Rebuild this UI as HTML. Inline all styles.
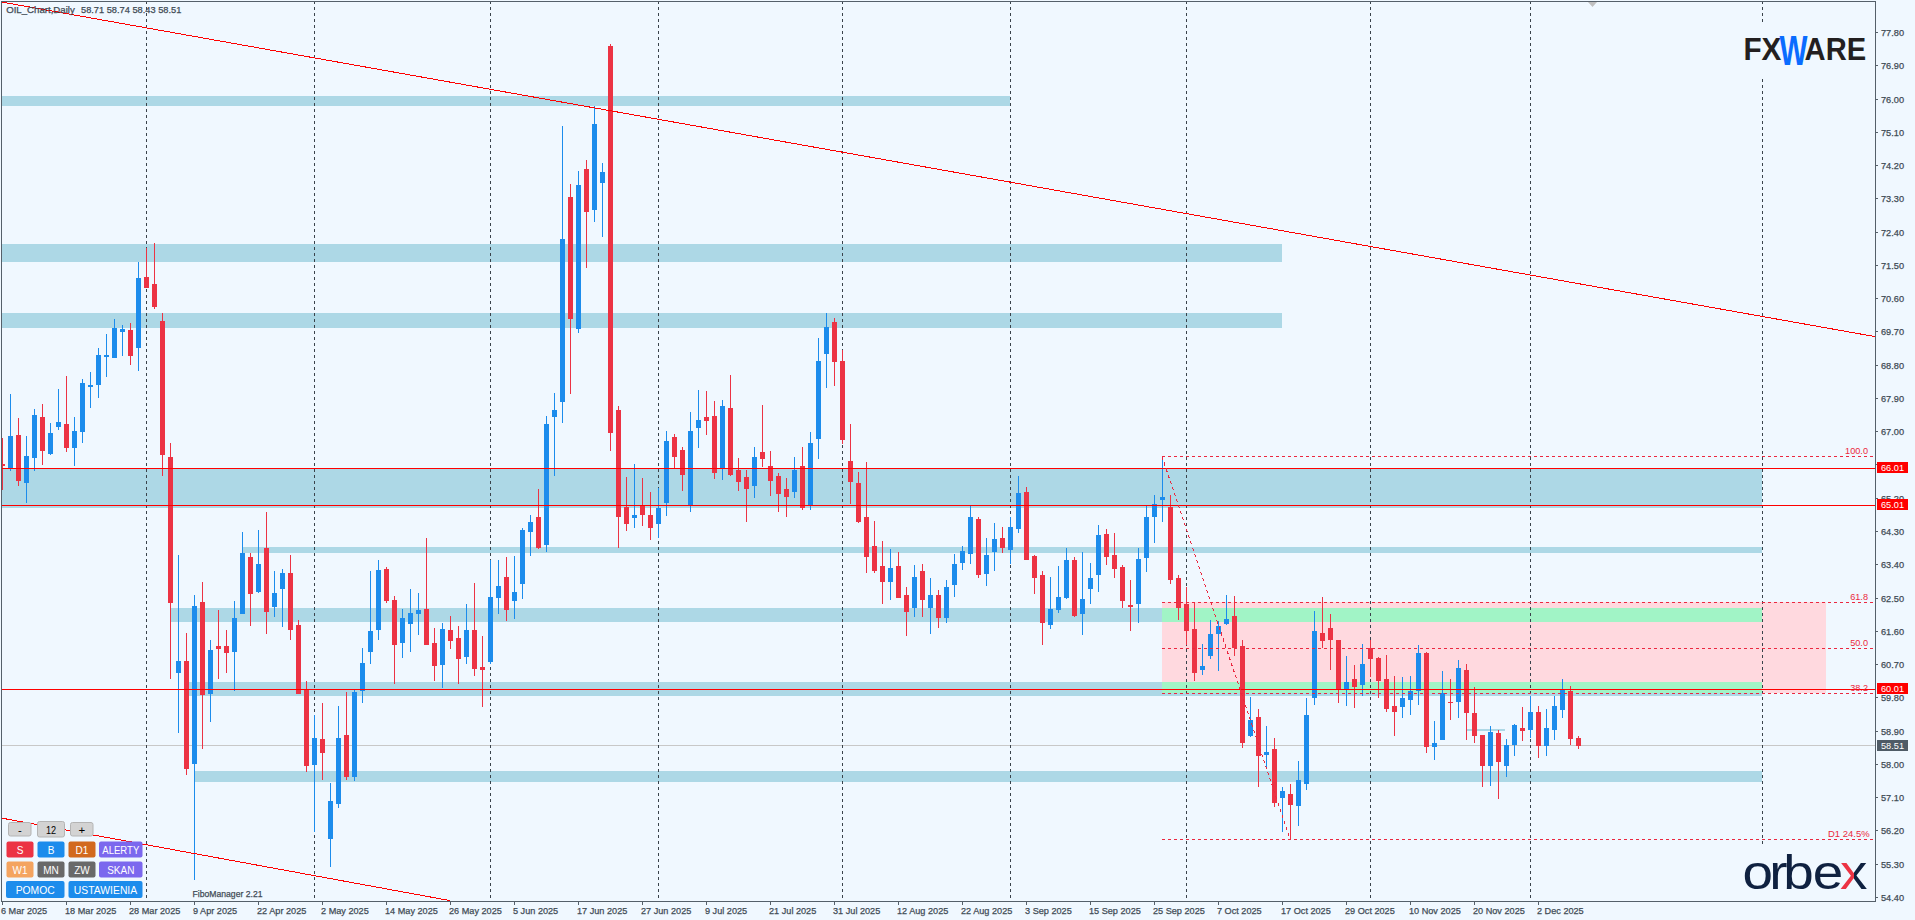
<!DOCTYPE html>
<html><head><meta charset="utf-8"><title>OIL_Chart Daily</title>
<style>html,body{margin:0;padding:0;background:#F0F8FF;}body{width:1915px;height:920px;overflow:hidden}svg{display:block}</style>
</head><body>
<svg width="1915" height="920" viewBox="0 0 1915 920" font-family='"Liberation Sans", Arial, sans-serif'>
<rect width="1915" height="920" fill="#F0F8FF"/>
<g shape-rendering="crispEdges">
<rect x="2" y="96" width="1008" height="10" fill="#ADD8E6"/>
<rect x="2" y="244" width="1280" height="18" fill="#ADD8E6"/>
<rect x="2" y="313" width="1280" height="15" fill="#ADD8E6"/>
<rect x="2" y="468" width="1760" height="40" fill="#ADD8E6"/>
<rect x="243" y="547" width="1519" height="6" fill="#ADD8E6"/>
<rect x="171" y="608" width="1591" height="14" fill="#ADD8E6"/>
<rect x="187" y="682" width="1575" height="14" fill="#ADD8E6"/>
<rect x="195" y="771" width="1567" height="11" fill="#ADD8E6"/>
<rect x="1466" y="729" width="39" height="2" fill="#ADD8E6"/>
<rect x="1162" y="602" width="664" height="91" fill="#FFD9DF"/>
<rect x="1162" y="608" width="600" height="14" fill="#A1F4C6"/>
<rect x="1162" y="682" width="600" height="11" fill="#A1F4C6"/>
<rect x="2" y="745" width="1873" height="1" fill="#C8C8C8"/>
</g>
<g stroke="#3A434B" stroke-width="1" stroke-dasharray="3 3" shape-rendering="crispEdges">
<line x1="146.5" y1="1" x2="146.5" y2="901"/>
<line x1="314.5" y1="1" x2="314.5" y2="901"/>
<line x1="490.5" y1="1" x2="490.5" y2="901"/>
<line x1="658.5" y1="1" x2="658.5" y2="901"/>
<line x1="842.5" y1="1" x2="842.5" y2="901"/>
<line x1="1010.5" y1="1" x2="1010.5" y2="901"/>
<line x1="1186.5" y1="1" x2="1186.5" y2="901"/>
<line x1="1370.5" y1="1" x2="1370.5" y2="901"/>
<line x1="1530.5" y1="1" x2="1530.5" y2="901"/>
<line x1="1762.5" y1="1" x2="1762.5" y2="22"/>
<line x1="1762.5" y1="79" x2="1762.5" y2="844"/>
</g>
<g shape-rendering="crispEdges">
<rect x="2" y="438" width="1" height="52" fill="#EC3344"/>
<rect x="2" y="464" width="3" height="2" fill="#EC3344"/>
<rect x="10" y="394" width="1" height="77" fill="#1C8CEC"/>
<rect x="8" y="436" width="5" height="32" fill="#1C8CEC"/>
<rect x="18" y="418" width="1" height="68" fill="#EC3344"/>
<rect x="16" y="435" width="5" height="46" fill="#EC3344"/>
<rect x="26" y="436" width="1" height="67" fill="#1C8CEC"/>
<rect x="24" y="456" width="5" height="27" fill="#1C8CEC"/>
<rect x="34" y="409" width="1" height="62" fill="#1C8CEC"/>
<rect x="32" y="415" width="5" height="43" fill="#1C8CEC"/>
<rect x="42" y="404" width="1" height="61" fill="#EC3344"/>
<rect x="40" y="417" width="5" height="34" fill="#EC3344"/>
<rect x="50" y="423" width="1" height="32" fill="#1C8CEC"/>
<rect x="48" y="433" width="5" height="21" fill="#1C8CEC"/>
<rect x="58" y="389" width="1" height="41" fill="#1C8CEC"/>
<rect x="56" y="422" width="5" height="5" fill="#1C8CEC"/>
<rect x="66" y="376" width="1" height="76" fill="#EC3344"/>
<rect x="64" y="424" width="5" height="24" fill="#EC3344"/>
<rect x="74" y="417" width="1" height="49" fill="#1C8CEC"/>
<rect x="72" y="431" width="5" height="17" fill="#1C8CEC"/>
<rect x="82" y="379" width="1" height="64" fill="#1C8CEC"/>
<rect x="80" y="383" width="5" height="49" fill="#1C8CEC"/>
<rect x="90" y="372" width="1" height="36" fill="#1C8CEC"/>
<rect x="88" y="385" width="5" height="2" fill="#1C8CEC"/>
<rect x="98" y="348" width="1" height="50" fill="#1C8CEC"/>
<rect x="96" y="355" width="5" height="30" fill="#1C8CEC"/>
<rect x="106" y="334" width="1" height="43" fill="#1C8CEC"/>
<rect x="104" y="355" width="5" height="2" fill="#1C8CEC"/>
<rect x="114" y="319" width="1" height="39" fill="#1C8CEC"/>
<rect x="112" y="328" width="5" height="30" fill="#1C8CEC"/>
<rect x="122" y="325" width="1" height="31" fill="#1C8CEC"/>
<rect x="120" y="329" width="5" height="3" fill="#1C8CEC"/>
<rect x="130" y="323" width="1" height="42" fill="#EC3344"/>
<rect x="128" y="330" width="5" height="26" fill="#EC3344"/>
<rect x="138" y="262" width="1" height="109" fill="#1C8CEC"/>
<rect x="136" y="278" width="5" height="70" fill="#1C8CEC"/>
<rect x="146" y="248" width="1" height="40" fill="#EC3344"/>
<rect x="144" y="277" width="5" height="11" fill="#EC3344"/>
<rect x="154" y="243" width="1" height="66" fill="#EC3344"/>
<rect x="152" y="284" width="5" height="23" fill="#EC3344"/>
<rect x="162" y="313" width="1" height="163" fill="#EC3344"/>
<rect x="160" y="321" width="5" height="134" fill="#EC3344"/>
<rect x="170" y="443" width="1" height="236" fill="#EC3344"/>
<rect x="168" y="457" width="5" height="146" fill="#EC3344"/>
<rect x="178" y="555" width="1" height="178" fill="#1C8CEC"/>
<rect x="176" y="661" width="5" height="12" fill="#1C8CEC"/>
<rect x="186" y="633" width="1" height="142" fill="#EC3344"/>
<rect x="184" y="661" width="5" height="108" fill="#EC3344"/>
<rect x="194" y="595" width="1" height="285" fill="#1C8CEC"/>
<rect x="192" y="606" width="5" height="158" fill="#1C8CEC"/>
<rect x="202" y="582" width="1" height="167" fill="#EC3344"/>
<rect x="200" y="602" width="5" height="93" fill="#EC3344"/>
<rect x="210" y="640" width="1" height="82" fill="#1C8CEC"/>
<rect x="208" y="650" width="5" height="44" fill="#1C8CEC"/>
<rect x="218" y="610" width="1" height="69" fill="#EC3344"/>
<rect x="216" y="646" width="5" height="3" fill="#EC3344"/>
<rect x="226" y="630" width="1" height="43" fill="#EC3344"/>
<rect x="224" y="646" width="5" height="7" fill="#EC3344"/>
<rect x="234" y="601" width="1" height="90" fill="#1C8CEC"/>
<rect x="232" y="618" width="5" height="34" fill="#1C8CEC"/>
<rect x="242" y="532" width="1" height="82" fill="#1C8CEC"/>
<rect x="240" y="553" width="5" height="61" fill="#1C8CEC"/>
<rect x="250" y="553" width="1" height="73" fill="#EC3344"/>
<rect x="248" y="557" width="5" height="37" fill="#EC3344"/>
<rect x="258" y="530" width="1" height="63" fill="#1C8CEC"/>
<rect x="256" y="564" width="5" height="28" fill="#1C8CEC"/>
<rect x="266" y="512" width="1" height="122" fill="#EC3344"/>
<rect x="264" y="548" width="5" height="64" fill="#EC3344"/>
<rect x="274" y="571" width="1" height="46" fill="#1C8CEC"/>
<rect x="272" y="593" width="5" height="14" fill="#1C8CEC"/>
<rect x="282" y="569" width="1" height="58" fill="#1C8CEC"/>
<rect x="280" y="573" width="5" height="16" fill="#1C8CEC"/>
<rect x="290" y="555" width="1" height="85" fill="#EC3344"/>
<rect x="288" y="573" width="5" height="57" fill="#EC3344"/>
<rect x="298" y="620" width="1" height="74" fill="#EC3344"/>
<rect x="296" y="625" width="5" height="69" fill="#EC3344"/>
<rect x="306" y="681" width="1" height="91" fill="#EC3344"/>
<rect x="304" y="689" width="5" height="77" fill="#EC3344"/>
<rect x="314" y="715" width="1" height="117" fill="#1C8CEC"/>
<rect x="312" y="738" width="5" height="27" fill="#1C8CEC"/>
<rect x="322" y="703" width="1" height="77" fill="#EC3344"/>
<rect x="320" y="739" width="5" height="14" fill="#EC3344"/>
<rect x="330" y="783" width="1" height="84" fill="#1C8CEC"/>
<rect x="328" y="801" width="5" height="38" fill="#1C8CEC"/>
<rect x="338" y="706" width="1" height="102" fill="#1C8CEC"/>
<rect x="336" y="738" width="5" height="66" fill="#1C8CEC"/>
<rect x="346" y="692" width="1" height="88" fill="#EC3344"/>
<rect x="344" y="735" width="5" height="42" fill="#EC3344"/>
<rect x="354" y="689" width="1" height="92" fill="#1C8CEC"/>
<rect x="352" y="692" width="5" height="85" fill="#1C8CEC"/>
<rect x="362" y="648" width="1" height="55" fill="#1C8CEC"/>
<rect x="360" y="663" width="5" height="28" fill="#1C8CEC"/>
<rect x="370" y="571" width="1" height="93" fill="#1C8CEC"/>
<rect x="368" y="631" width="5" height="21" fill="#1C8CEC"/>
<rect x="378" y="560" width="1" height="80" fill="#1C8CEC"/>
<rect x="376" y="570" width="5" height="60" fill="#1C8CEC"/>
<rect x="386" y="567" width="1" height="36" fill="#EC3344"/>
<rect x="384" y="569" width="5" height="32" fill="#EC3344"/>
<rect x="394" y="596" width="1" height="88" fill="#EC3344"/>
<rect x="392" y="600" width="5" height="45" fill="#EC3344"/>
<rect x="402" y="609" width="1" height="49" fill="#1C8CEC"/>
<rect x="400" y="618" width="5" height="25" fill="#1C8CEC"/>
<rect x="410" y="589" width="1" height="63" fill="#1C8CEC"/>
<rect x="408" y="613" width="5" height="11" fill="#1C8CEC"/>
<rect x="418" y="593" width="1" height="42" fill="#1C8CEC"/>
<rect x="416" y="610" width="5" height="4" fill="#1C8CEC"/>
<rect x="426" y="538" width="1" height="107" fill="#EC3344"/>
<rect x="424" y="609" width="5" height="36" fill="#EC3344"/>
<rect x="434" y="628" width="1" height="53" fill="#EC3344"/>
<rect x="432" y="643" width="5" height="23" fill="#EC3344"/>
<rect x="442" y="623" width="1" height="65" fill="#1C8CEC"/>
<rect x="440" y="629" width="5" height="36" fill="#1C8CEC"/>
<rect x="450" y="616" width="1" height="33" fill="#EC3344"/>
<rect x="448" y="630" width="5" height="11" fill="#EC3344"/>
<rect x="458" y="626" width="1" height="58" fill="#EC3344"/>
<rect x="456" y="638" width="5" height="21" fill="#EC3344"/>
<rect x="466" y="604" width="1" height="60" fill="#1C8CEC"/>
<rect x="464" y="630" width="5" height="27" fill="#1C8CEC"/>
<rect x="474" y="583" width="1" height="93" fill="#EC3344"/>
<rect x="472" y="630" width="5" height="39" fill="#EC3344"/>
<rect x="482" y="636" width="1" height="71" fill="#EC3344"/>
<rect x="480" y="667" width="5" height="3" fill="#EC3344"/>
<rect x="490" y="560" width="1" height="104" fill="#1C8CEC"/>
<rect x="488" y="597" width="5" height="65" fill="#1C8CEC"/>
<rect x="498" y="560" width="1" height="54" fill="#1C8CEC"/>
<rect x="496" y="586" width="5" height="12" fill="#1C8CEC"/>
<rect x="506" y="557" width="1" height="64" fill="#EC3344"/>
<rect x="504" y="577" width="5" height="33" fill="#EC3344"/>
<rect x="514" y="556" width="1" height="63" fill="#1C8CEC"/>
<rect x="512" y="592" width="5" height="9" fill="#1C8CEC"/>
<rect x="522" y="528" width="1" height="71" fill="#1C8CEC"/>
<rect x="520" y="530" width="5" height="54" fill="#1C8CEC"/>
<rect x="530" y="515" width="1" height="41" fill="#1C8CEC"/>
<rect x="528" y="522" width="5" height="10" fill="#1C8CEC"/>
<rect x="538" y="489" width="1" height="60" fill="#EC3344"/>
<rect x="536" y="517" width="5" height="31" fill="#EC3344"/>
<rect x="546" y="416" width="1" height="136" fill="#1C8CEC"/>
<rect x="544" y="424" width="5" height="121" fill="#1C8CEC"/>
<rect x="554" y="393" width="1" height="83" fill="#1C8CEC"/>
<rect x="552" y="410" width="5" height="7" fill="#1C8CEC"/>
<rect x="562" y="126" width="1" height="297" fill="#1C8CEC"/>
<rect x="560" y="239" width="5" height="163" fill="#1C8CEC"/>
<rect x="570" y="184" width="1" height="210" fill="#EC3344"/>
<rect x="568" y="197" width="5" height="122" fill="#EC3344"/>
<rect x="578" y="171" width="1" height="162" fill="#1C8CEC"/>
<rect x="576" y="185" width="5" height="144" fill="#1C8CEC"/>
<rect x="586" y="160" width="1" height="108" fill="#EC3344"/>
<rect x="584" y="169" width="5" height="43" fill="#EC3344"/>
<rect x="594" y="106" width="1" height="116" fill="#1C8CEC"/>
<rect x="592" y="124" width="5" height="86" fill="#1C8CEC"/>
<rect x="602" y="163" width="1" height="74" fill="#1C8CEC"/>
<rect x="600" y="172" width="5" height="11" fill="#1C8CEC"/>
<rect x="610" y="44" width="1" height="407" fill="#EC3344"/>
<rect x="608" y="46" width="5" height="387" fill="#EC3344"/>
<rect x="618" y="406" width="1" height="142" fill="#EC3344"/>
<rect x="616" y="410" width="5" height="107" fill="#EC3344"/>
<rect x="626" y="477" width="1" height="54" fill="#EC3344"/>
<rect x="624" y="507" width="5" height="17" fill="#EC3344"/>
<rect x="634" y="464" width="1" height="64" fill="#1C8CEC"/>
<rect x="632" y="515" width="5" height="3" fill="#1C8CEC"/>
<rect x="642" y="478" width="1" height="48" fill="#EC3344"/>
<rect x="640" y="505" width="5" height="10" fill="#EC3344"/>
<rect x="650" y="492" width="1" height="48" fill="#EC3344"/>
<rect x="648" y="515" width="5" height="13" fill="#EC3344"/>
<rect x="658" y="488" width="1" height="50" fill="#1C8CEC"/>
<rect x="656" y="508" width="5" height="16" fill="#1C8CEC"/>
<rect x="666" y="431" width="1" height="85" fill="#1C8CEC"/>
<rect x="664" y="441" width="5" height="62" fill="#1C8CEC"/>
<rect x="674" y="434" width="1" height="34" fill="#EC3344"/>
<rect x="672" y="437" width="5" height="20" fill="#EC3344"/>
<rect x="682" y="447" width="1" height="44" fill="#EC3344"/>
<rect x="680" y="450" width="5" height="25" fill="#EC3344"/>
<rect x="690" y="412" width="1" height="100" fill="#1C8CEC"/>
<rect x="688" y="431" width="5" height="74" fill="#1C8CEC"/>
<rect x="698" y="390" width="1" height="58" fill="#1C8CEC"/>
<rect x="696" y="420" width="5" height="8" fill="#1C8CEC"/>
<rect x="706" y="391" width="1" height="44" fill="#EC3344"/>
<rect x="704" y="417" width="5" height="4" fill="#EC3344"/>
<rect x="714" y="401" width="1" height="78" fill="#EC3344"/>
<rect x="712" y="416" width="5" height="57" fill="#EC3344"/>
<rect x="722" y="400" width="1" height="80" fill="#1C8CEC"/>
<rect x="720" y="406" width="5" height="62" fill="#1C8CEC"/>
<rect x="730" y="375" width="1" height="101" fill="#EC3344"/>
<rect x="728" y="408" width="5" height="67" fill="#EC3344"/>
<rect x="738" y="458" width="1" height="33" fill="#EC3344"/>
<rect x="736" y="470" width="5" height="12" fill="#EC3344"/>
<rect x="746" y="470" width="1" height="52" fill="#EC3344"/>
<rect x="744" y="477" width="5" height="12" fill="#EC3344"/>
<rect x="754" y="447" width="1" height="51" fill="#1C8CEC"/>
<rect x="752" y="457" width="5" height="29" fill="#1C8CEC"/>
<rect x="762" y="405" width="1" height="62" fill="#EC3344"/>
<rect x="760" y="452" width="5" height="7" fill="#EC3344"/>
<rect x="770" y="451" width="1" height="45" fill="#EC3344"/>
<rect x="768" y="466" width="5" height="15" fill="#EC3344"/>
<rect x="778" y="473" width="1" height="39" fill="#EC3344"/>
<rect x="776" y="476" width="5" height="18" fill="#EC3344"/>
<rect x="786" y="478" width="1" height="39" fill="#EC3344"/>
<rect x="784" y="489" width="5" height="8" fill="#EC3344"/>
<rect x="794" y="457" width="1" height="41" fill="#1C8CEC"/>
<rect x="792" y="470" width="5" height="22" fill="#1C8CEC"/>
<rect x="802" y="447" width="1" height="63" fill="#EC3344"/>
<rect x="800" y="466" width="5" height="42" fill="#EC3344"/>
<rect x="810" y="432" width="1" height="78" fill="#1C8CEC"/>
<rect x="808" y="443" width="5" height="62" fill="#1C8CEC"/>
<rect x="818" y="338" width="1" height="121" fill="#1C8CEC"/>
<rect x="816" y="361" width="5" height="78" fill="#1C8CEC"/>
<rect x="826" y="313" width="1" height="75" fill="#1C8CEC"/>
<rect x="824" y="327" width="5" height="27" fill="#1C8CEC"/>
<rect x="834" y="318" width="1" height="68" fill="#EC3344"/>
<rect x="832" y="322" width="5" height="40" fill="#EC3344"/>
<rect x="842" y="350" width="1" height="94" fill="#EC3344"/>
<rect x="840" y="361" width="5" height="79" fill="#EC3344"/>
<rect x="850" y="424" width="1" height="80" fill="#EC3344"/>
<rect x="848" y="461" width="5" height="21" fill="#EC3344"/>
<rect x="858" y="472" width="1" height="51" fill="#EC3344"/>
<rect x="856" y="483" width="5" height="39" fill="#EC3344"/>
<rect x="866" y="462" width="1" height="111" fill="#EC3344"/>
<rect x="864" y="517" width="5" height="40" fill="#EC3344"/>
<rect x="874" y="521" width="1" height="52" fill="#EC3344"/>
<rect x="872" y="546" width="5" height="25" fill="#EC3344"/>
<rect x="882" y="541" width="1" height="63" fill="#EC3344"/>
<rect x="880" y="566" width="5" height="16" fill="#EC3344"/>
<rect x="890" y="549" width="1" height="51" fill="#1C8CEC"/>
<rect x="888" y="568" width="5" height="14" fill="#1C8CEC"/>
<rect x="898" y="552" width="1" height="46" fill="#EC3344"/>
<rect x="896" y="566" width="5" height="32" fill="#EC3344"/>
<rect x="906" y="587" width="1" height="49" fill="#EC3344"/>
<rect x="904" y="595" width="5" height="17" fill="#EC3344"/>
<rect x="914" y="565" width="1" height="52" fill="#1C8CEC"/>
<rect x="912" y="577" width="5" height="31" fill="#1C8CEC"/>
<rect x="922" y="564" width="1" height="53" fill="#EC3344"/>
<rect x="920" y="571" width="5" height="29" fill="#EC3344"/>
<rect x="930" y="578" width="1" height="56" fill="#1C8CEC"/>
<rect x="928" y="595" width="5" height="13" fill="#1C8CEC"/>
<rect x="938" y="590" width="1" height="38" fill="#EC3344"/>
<rect x="936" y="595" width="5" height="23" fill="#EC3344"/>
<rect x="946" y="580" width="1" height="43" fill="#1C8CEC"/>
<rect x="944" y="587" width="5" height="31" fill="#1C8CEC"/>
<rect x="954" y="554" width="1" height="43" fill="#1C8CEC"/>
<rect x="952" y="564" width="5" height="21" fill="#1C8CEC"/>
<rect x="962" y="546" width="1" height="24" fill="#1C8CEC"/>
<rect x="960" y="551" width="5" height="12" fill="#1C8CEC"/>
<rect x="970" y="506" width="1" height="58" fill="#1C8CEC"/>
<rect x="968" y="517" width="5" height="37" fill="#1C8CEC"/>
<rect x="978" y="517" width="1" height="61" fill="#EC3344"/>
<rect x="976" y="519" width="5" height="56" fill="#EC3344"/>
<rect x="986" y="538" width="1" height="48" fill="#1C8CEC"/>
<rect x="984" y="555" width="5" height="19" fill="#1C8CEC"/>
<rect x="994" y="523" width="1" height="48" fill="#1C8CEC"/>
<rect x="992" y="539" width="5" height="13" fill="#1C8CEC"/>
<rect x="1002" y="527" width="1" height="26" fill="#EC3344"/>
<rect x="1000" y="538" width="5" height="10" fill="#EC3344"/>
<rect x="1010" y="517" width="1" height="47" fill="#1C8CEC"/>
<rect x="1008" y="527" width="5" height="23" fill="#1C8CEC"/>
<rect x="1018" y="476" width="1" height="57" fill="#1C8CEC"/>
<rect x="1016" y="493" width="5" height="36" fill="#1C8CEC"/>
<rect x="1026" y="487" width="1" height="73" fill="#EC3344"/>
<rect x="1024" y="492" width="5" height="68" fill="#EC3344"/>
<rect x="1034" y="555" width="1" height="39" fill="#EC3344"/>
<rect x="1032" y="556" width="5" height="22" fill="#EC3344"/>
<rect x="1042" y="571" width="1" height="74" fill="#EC3344"/>
<rect x="1040" y="575" width="5" height="48" fill="#EC3344"/>
<rect x="1050" y="577" width="1" height="52" fill="#1C8CEC"/>
<rect x="1048" y="609" width="5" height="16" fill="#1C8CEC"/>
<rect x="1058" y="566" width="1" height="47" fill="#1C8CEC"/>
<rect x="1056" y="597" width="5" height="13" fill="#1C8CEC"/>
<rect x="1066" y="548" width="1" height="51" fill="#1C8CEC"/>
<rect x="1064" y="560" width="5" height="38" fill="#1C8CEC"/>
<rect x="1074" y="557" width="1" height="60" fill="#EC3344"/>
<rect x="1072" y="560" width="5" height="56" fill="#EC3344"/>
<rect x="1082" y="552" width="1" height="83" fill="#1C8CEC"/>
<rect x="1080" y="599" width="5" height="15" fill="#1C8CEC"/>
<rect x="1090" y="563" width="1" height="41" fill="#1C8CEC"/>
<rect x="1088" y="578" width="5" height="11" fill="#1C8CEC"/>
<rect x="1098" y="525" width="1" height="67" fill="#1C8CEC"/>
<rect x="1096" y="535" width="5" height="40" fill="#1C8CEC"/>
<rect x="1106" y="529" width="1" height="36" fill="#EC3344"/>
<rect x="1104" y="534" width="5" height="23" fill="#EC3344"/>
<rect x="1114" y="533" width="1" height="45" fill="#EC3344"/>
<rect x="1112" y="555" width="5" height="14" fill="#EC3344"/>
<rect x="1122" y="565" width="1" height="43" fill="#EC3344"/>
<rect x="1120" y="567" width="5" height="34" fill="#EC3344"/>
<rect x="1130" y="580" width="1" height="51" fill="#EC3344"/>
<rect x="1128" y="605" width="5" height="2" fill="#EC3344"/>
<rect x="1138" y="548" width="1" height="75" fill="#1C8CEC"/>
<rect x="1136" y="559" width="5" height="45" fill="#1C8CEC"/>
<rect x="1146" y="506" width="1" height="66" fill="#1C8CEC"/>
<rect x="1144" y="517" width="5" height="41" fill="#1C8CEC"/>
<rect x="1154" y="495" width="1" height="48" fill="#1C8CEC"/>
<rect x="1152" y="504" width="5" height="13" fill="#1C8CEC"/>
<rect x="1162" y="457" width="1" height="65" fill="#1C8CEC"/>
<rect x="1160" y="497" width="5" height="3" fill="#1C8CEC"/>
<rect x="1170" y="495" width="1" height="89" fill="#EC3344"/>
<rect x="1168" y="507" width="5" height="73" fill="#EC3344"/>
<rect x="1178" y="575" width="1" height="45" fill="#EC3344"/>
<rect x="1176" y="578" width="5" height="30" fill="#EC3344"/>
<rect x="1186" y="587" width="1" height="58" fill="#EC3344"/>
<rect x="1184" y="604" width="5" height="27" fill="#EC3344"/>
<rect x="1194" y="602" width="1" height="79" fill="#EC3344"/>
<rect x="1192" y="629" width="5" height="44" fill="#EC3344"/>
<rect x="1202" y="644" width="1" height="31" fill="#1C8CEC"/>
<rect x="1200" y="666" width="5" height="4" fill="#1C8CEC"/>
<rect x="1210" y="620" width="1" height="39" fill="#1C8CEC"/>
<rect x="1208" y="634" width="5" height="22" fill="#1C8CEC"/>
<rect x="1218" y="621" width="1" height="50" fill="#1C8CEC"/>
<rect x="1216" y="626" width="5" height="8" fill="#1C8CEC"/>
<rect x="1226" y="595" width="1" height="30" fill="#1C8CEC"/>
<rect x="1224" y="619" width="5" height="5" fill="#1C8CEC"/>
<rect x="1234" y="596" width="1" height="60" fill="#EC3344"/>
<rect x="1232" y="616" width="5" height="32" fill="#EC3344"/>
<rect x="1242" y="640" width="1" height="108" fill="#EC3344"/>
<rect x="1240" y="646" width="5" height="97" fill="#EC3344"/>
<rect x="1250" y="697" width="1" height="40" fill="#1C8CEC"/>
<rect x="1248" y="720" width="5" height="16" fill="#1C8CEC"/>
<rect x="1258" y="709" width="1" height="78" fill="#EC3344"/>
<rect x="1256" y="717" width="5" height="39" fill="#EC3344"/>
<rect x="1266" y="726" width="1" height="43" fill="#1C8CEC"/>
<rect x="1264" y="752" width="5" height="3" fill="#1C8CEC"/>
<rect x="1274" y="738" width="1" height="69" fill="#EC3344"/>
<rect x="1272" y="749" width="5" height="54" fill="#EC3344"/>
<rect x="1282" y="787" width="1" height="45" fill="#1C8CEC"/>
<rect x="1280" y="791" width="5" height="7" fill="#1C8CEC"/>
<rect x="1290" y="784" width="1" height="55" fill="#EC3344"/>
<rect x="1288" y="794" width="5" height="11" fill="#EC3344"/>
<rect x="1298" y="761" width="1" height="65" fill="#1C8CEC"/>
<rect x="1296" y="780" width="5" height="26" fill="#1C8CEC"/>
<rect x="1306" y="698" width="1" height="92" fill="#1C8CEC"/>
<rect x="1304" y="715" width="5" height="69" fill="#1C8CEC"/>
<rect x="1314" y="611" width="1" height="94" fill="#1C8CEC"/>
<rect x="1312" y="631" width="5" height="67" fill="#1C8CEC"/>
<rect x="1322" y="597" width="1" height="51" fill="#EC3344"/>
<rect x="1320" y="633" width="5" height="8" fill="#EC3344"/>
<rect x="1330" y="614" width="1" height="56" fill="#EC3344"/>
<rect x="1328" y="628" width="5" height="12" fill="#EC3344"/>
<rect x="1338" y="640" width="1" height="63" fill="#EC3344"/>
<rect x="1336" y="640" width="5" height="49" fill="#EC3344"/>
<rect x="1346" y="656" width="1" height="50" fill="#1C8CEC"/>
<rect x="1344" y="682" width="5" height="7" fill="#1C8CEC"/>
<rect x="1354" y="665" width="1" height="43" fill="#EC3344"/>
<rect x="1352" y="679" width="5" height="8" fill="#EC3344"/>
<rect x="1362" y="644" width="1" height="52" fill="#1C8CEC"/>
<rect x="1360" y="664" width="5" height="21" fill="#1C8CEC"/>
<rect x="1370" y="640" width="1" height="37" fill="#EC3344"/>
<rect x="1368" y="648" width="5" height="11" fill="#EC3344"/>
<rect x="1378" y="657" width="1" height="41" fill="#EC3344"/>
<rect x="1376" y="658" width="5" height="23" fill="#EC3344"/>
<rect x="1386" y="655" width="1" height="57" fill="#EC3344"/>
<rect x="1384" y="679" width="5" height="30" fill="#EC3344"/>
<rect x="1394" y="676" width="1" height="60" fill="#EC3344"/>
<rect x="1392" y="706" width="5" height="6" fill="#EC3344"/>
<rect x="1402" y="677" width="1" height="41" fill="#1C8CEC"/>
<rect x="1400" y="698" width="5" height="9" fill="#1C8CEC"/>
<rect x="1410" y="676" width="1" height="39" fill="#1C8CEC"/>
<rect x="1408" y="691" width="5" height="9" fill="#1C8CEC"/>
<rect x="1418" y="645" width="1" height="60" fill="#1C8CEC"/>
<rect x="1416" y="653" width="5" height="38" fill="#1C8CEC"/>
<rect x="1426" y="652" width="1" height="101" fill="#EC3344"/>
<rect x="1424" y="653" width="5" height="94" fill="#EC3344"/>
<rect x="1434" y="721" width="1" height="39" fill="#1C8CEC"/>
<rect x="1432" y="743" width="5" height="4" fill="#1C8CEC"/>
<rect x="1442" y="671" width="1" height="69" fill="#1C8CEC"/>
<rect x="1440" y="693" width="5" height="47" fill="#1C8CEC"/>
<rect x="1450" y="679" width="1" height="41" fill="#EC3344"/>
<rect x="1448" y="702" width="5" height="1" fill="#EC3344"/>
<rect x="1458" y="660" width="1" height="58" fill="#1C8CEC"/>
<rect x="1456" y="668" width="5" height="34" fill="#1C8CEC"/>
<rect x="1466" y="664" width="1" height="76" fill="#EC3344"/>
<rect x="1464" y="670" width="5" height="43" fill="#EC3344"/>
<rect x="1474" y="687" width="1" height="56" fill="#EC3344"/>
<rect x="1472" y="713" width="5" height="23" fill="#EC3344"/>
<rect x="1482" y="735" width="1" height="52" fill="#EC3344"/>
<rect x="1480" y="735" width="5" height="31" fill="#EC3344"/>
<rect x="1490" y="726" width="1" height="60" fill="#1C8CEC"/>
<rect x="1488" y="732" width="5" height="34" fill="#1C8CEC"/>
<rect x="1498" y="730" width="1" height="69" fill="#EC3344"/>
<rect x="1496" y="733" width="5" height="29" fill="#EC3344"/>
<rect x="1506" y="739" width="1" height="38" fill="#1C8CEC"/>
<rect x="1504" y="745" width="5" height="21" fill="#1C8CEC"/>
<rect x="1514" y="724" width="1" height="32" fill="#1C8CEC"/>
<rect x="1512" y="725" width="5" height="20" fill="#1C8CEC"/>
<rect x="1522" y="707" width="1" height="34" fill="#EC3344"/>
<rect x="1520" y="728" width="5" height="3" fill="#EC3344"/>
<rect x="1530" y="696" width="1" height="42" fill="#1C8CEC"/>
<rect x="1528" y="712" width="5" height="18" fill="#1C8CEC"/>
<rect x="1538" y="706" width="1" height="52" fill="#EC3344"/>
<rect x="1536" y="712" width="5" height="34" fill="#EC3344"/>
<rect x="1546" y="709" width="1" height="47" fill="#1C8CEC"/>
<rect x="1544" y="728" width="5" height="18" fill="#1C8CEC"/>
<rect x="1554" y="696" width="1" height="44" fill="#1C8CEC"/>
<rect x="1552" y="706" width="5" height="24" fill="#1C8CEC"/>
<rect x="1562" y="679" width="1" height="39" fill="#1C8CEC"/>
<rect x="1560" y="690" width="5" height="20" fill="#1C8CEC"/>
<rect x="1570" y="686" width="1" height="59" fill="#EC3344"/>
<rect x="1568" y="691" width="5" height="48" fill="#EC3344"/>
<rect x="1578" y="736" width="1" height="13" fill="#EC3344"/>
<rect x="1576" y="738" width="5" height="8" fill="#EC3344"/>
</g>
<g shape-rendering="crispEdges">
<rect x="2" y="468" width="1873" height="1" fill="#FF0000"/>
<rect x="2" y="505" width="1873" height="1" fill="#FF0000"/>
<rect x="2" y="689" width="1873" height="1" fill="#FF0000"/>
</g>
<g stroke="#FF0000" stroke-width="1" fill="none" shape-rendering="crispEdges">
<line x1="1" y1="1.9" x2="1875" y2="336.6"/>
<line x1="1" y1="818" x2="450" y2="900.6"/>
</g>
<g stroke="#EB2840" stroke-width="1" stroke-dasharray="3 3" shape-rendering="crispEdges">
<line x1="1162" y1="456.5" x2="1873" y2="456.5"/>
<line x1="1162" y1="602.5" x2="1873" y2="602.5"/>
<line x1="1162" y1="648.5" x2="1873" y2="648.5"/>
<line x1="1162" y1="693.5" x2="1873" y2="693.5"/>
<line x1="1162" y1="839.5" x2="1873" y2="839.5"/>
</g>
<line x1="1162" y1="456.5" x2="1290" y2="838.5" stroke="#EB2840" stroke-width="1" stroke-dasharray="3.2 3.2" shape-rendering="crispEdges"/>
<g shape-rendering="crispEdges">
<rect x="1" y="1" width="1875" height="1" fill="#55606A"/>
<rect x="1" y="1" width="1" height="901" fill="#55606A"/>
<rect x="1875" y="1" width="1" height="901" fill="#55606A"/>
<rect x="1" y="901" width="1875" height="1" fill="#55606A"/>
<polygon points="1588,2 1597,2 1592.5,7" fill="#C0C0C0" shape-rendering="auto"/>
<rect x="1876" y="32" width="2" height="1" fill="#55606A"/>
<rect x="1876" y="65" width="2" height="1" fill="#55606A"/>
<rect x="1876" y="99" width="2" height="1" fill="#55606A"/>
<rect x="1876" y="132" width="2" height="1" fill="#55606A"/>
<rect x="1876" y="165" width="2" height="1" fill="#55606A"/>
<rect x="1876" y="198" width="2" height="1" fill="#55606A"/>
<rect x="1876" y="232" width="2" height="1" fill="#55606A"/>
<rect x="1876" y="265" width="2" height="1" fill="#55606A"/>
<rect x="1876" y="298" width="2" height="1" fill="#55606A"/>
<rect x="1876" y="331" width="2" height="1" fill="#55606A"/>
<rect x="1876" y="365" width="2" height="1" fill="#55606A"/>
<rect x="1876" y="398" width="2" height="1" fill="#55606A"/>
<rect x="1876" y="431" width="2" height="1" fill="#55606A"/>
<rect x="1876" y="464" width="2" height="1" fill="#55606A"/>
<rect x="1876" y="498" width="2" height="1" fill="#55606A"/>
<rect x="1876" y="531" width="2" height="1" fill="#55606A"/>
<rect x="1876" y="564" width="2" height="1" fill="#55606A"/>
<rect x="1876" y="598" width="2" height="1" fill="#55606A"/>
<rect x="1876" y="631" width="2" height="1" fill="#55606A"/>
<rect x="1876" y="664" width="2" height="1" fill="#55606A"/>
<rect x="1876" y="697" width="2" height="1" fill="#55606A"/>
<rect x="1876" y="731" width="2" height="1" fill="#55606A"/>
<rect x="1876" y="764" width="2" height="1" fill="#55606A"/>
<rect x="1876" y="797" width="2" height="1" fill="#55606A"/>
<rect x="1876" y="830" width="2" height="1" fill="#55606A"/>
<rect x="1876" y="864" width="2" height="1" fill="#55606A"/>
<rect x="1876" y="897" width="2" height="1" fill="#55606A"/>
<rect x="2" y="902" width="1" height="3" fill="#55606A"/>
<rect x="66" y="902" width="1" height="3" fill="#55606A"/>
<rect x="130" y="902" width="1" height="3" fill="#55606A"/>
<rect x="194" y="902" width="1" height="3" fill="#55606A"/>
<rect x="258" y="902" width="1" height="3" fill="#55606A"/>
<rect x="322" y="902" width="1" height="3" fill="#55606A"/>
<rect x="386" y="902" width="1" height="3" fill="#55606A"/>
<rect x="450" y="902" width="1" height="3" fill="#55606A"/>
<rect x="514" y="902" width="1" height="3" fill="#55606A"/>
<rect x="578" y="902" width="1" height="3" fill="#55606A"/>
<rect x="642" y="902" width="1" height="3" fill="#55606A"/>
<rect x="706" y="902" width="1" height="3" fill="#55606A"/>
<rect x="770" y="902" width="1" height="3" fill="#55606A"/>
<rect x="834" y="902" width="1" height="3" fill="#55606A"/>
<rect x="898" y="902" width="1" height="3" fill="#55606A"/>
<rect x="962" y="902" width="1" height="3" fill="#55606A"/>
<rect x="1026" y="902" width="1" height="3" fill="#55606A"/>
<rect x="1090" y="902" width="1" height="3" fill="#55606A"/>
<rect x="1154" y="902" width="1" height="3" fill="#55606A"/>
<rect x="1218" y="902" width="1" height="3" fill="#55606A"/>
<rect x="1282" y="902" width="1" height="3" fill="#55606A"/>
<rect x="1346" y="902" width="1" height="3" fill="#55606A"/>
<rect x="1410" y="902" width="1" height="3" fill="#55606A"/>
<rect x="1474" y="902" width="1" height="3" fill="#55606A"/>
<rect x="1538" y="902" width="1" height="3" fill="#55606A"/>
</g>
<g font-size="9.6" fill="#3F4B55" stroke="#3F4B55" stroke-width="0.25">
<text x="1881" y="35.9" textLength="23" lengthAdjust="spacingAndGlyphs">77.80</text>
<text x="1881" y="68.9" textLength="23" lengthAdjust="spacingAndGlyphs">76.90</text>
<text x="1881" y="102.9" textLength="23" lengthAdjust="spacingAndGlyphs">76.00</text>
<text x="1881" y="135.9" textLength="23" lengthAdjust="spacingAndGlyphs">75.10</text>
<text x="1881" y="168.9" textLength="23" lengthAdjust="spacingAndGlyphs">74.20</text>
<text x="1881" y="201.9" textLength="23" lengthAdjust="spacingAndGlyphs">73.30</text>
<text x="1881" y="235.9" textLength="23" lengthAdjust="spacingAndGlyphs">72.40</text>
<text x="1881" y="268.9" textLength="23" lengthAdjust="spacingAndGlyphs">71.50</text>
<text x="1881" y="301.9" textLength="23" lengthAdjust="spacingAndGlyphs">70.60</text>
<text x="1881" y="334.9" textLength="23" lengthAdjust="spacingAndGlyphs">69.70</text>
<text x="1881" y="368.9" textLength="23" lengthAdjust="spacingAndGlyphs">68.80</text>
<text x="1881" y="401.9" textLength="23" lengthAdjust="spacingAndGlyphs">67.90</text>
<text x="1881" y="434.9" textLength="23" lengthAdjust="spacingAndGlyphs">67.00</text>
<text x="1881" y="467.9" textLength="23" lengthAdjust="spacingAndGlyphs">66.10</text>
<text x="1881" y="501.9" textLength="23" lengthAdjust="spacingAndGlyphs">65.20</text>
<text x="1881" y="534.9" textLength="23" lengthAdjust="spacingAndGlyphs">64.30</text>
<text x="1881" y="567.9" textLength="23" lengthAdjust="spacingAndGlyphs">63.40</text>
<text x="1881" y="601.9" textLength="23" lengthAdjust="spacingAndGlyphs">62.50</text>
<text x="1881" y="634.9" textLength="23" lengthAdjust="spacingAndGlyphs">61.60</text>
<text x="1881" y="667.9" textLength="23" lengthAdjust="spacingAndGlyphs">60.70</text>
<text x="1881" y="700.9" textLength="23" lengthAdjust="spacingAndGlyphs">59.80</text>
<text x="1881" y="734.9" textLength="23" lengthAdjust="spacingAndGlyphs">58.90</text>
<text x="1881" y="767.9" textLength="23" lengthAdjust="spacingAndGlyphs">58.00</text>
<text x="1881" y="800.9" textLength="23" lengthAdjust="spacingAndGlyphs">57.10</text>
<text x="1881" y="833.9" textLength="23" lengthAdjust="spacingAndGlyphs">56.20</text>
<text x="1881" y="867.9" textLength="23" lengthAdjust="spacingAndGlyphs">55.30</text>
<text x="1881" y="900.9" textLength="23" lengthAdjust="spacingAndGlyphs">54.40</text>
<text x="1" y="913.9" textLength="46.2" lengthAdjust="spacingAndGlyphs">6 Mar 2025</text>
<text x="65" y="913.9" textLength="51.3" lengthAdjust="spacingAndGlyphs">18 Mar 2025</text>
<text x="129" y="913.9" textLength="51.3" lengthAdjust="spacingAndGlyphs">28 Mar 2025</text>
<text x="193" y="913.9" textLength="44.2" lengthAdjust="spacingAndGlyphs">9 Apr 2025</text>
<text x="257" y="913.9" textLength="49.3" lengthAdjust="spacingAndGlyphs">22 Apr 2025</text>
<text x="321" y="913.9" textLength="47.8" lengthAdjust="spacingAndGlyphs">2 May 2025</text>
<text x="385" y="913.9" textLength="52.8" lengthAdjust="spacingAndGlyphs">14 May 2025</text>
<text x="449" y="913.9" textLength="52.8" lengthAdjust="spacingAndGlyphs">26 May 2025</text>
<text x="513" y="913.9" textLength="45.2" lengthAdjust="spacingAndGlyphs">5 Jun 2025</text>
<text x="577" y="913.9" textLength="50.3" lengthAdjust="spacingAndGlyphs">17 Jun 2025</text>
<text x="641" y="913.9" textLength="50.3" lengthAdjust="spacingAndGlyphs">27 Jun 2025</text>
<text x="705" y="913.9" textLength="42.2" lengthAdjust="spacingAndGlyphs">9 Jul 2025</text>
<text x="769" y="913.9" textLength="47.3" lengthAdjust="spacingAndGlyphs">21 Jul 2025</text>
<text x="833" y="913.9" textLength="47.3" lengthAdjust="spacingAndGlyphs">31 Jul 2025</text>
<text x="897" y="913.9" textLength="51.3" lengthAdjust="spacingAndGlyphs">12 Aug 2025</text>
<text x="961" y="913.9" textLength="51.3" lengthAdjust="spacingAndGlyphs">22 Aug 2025</text>
<text x="1025" y="913.9" textLength="46.8" lengthAdjust="spacingAndGlyphs">3 Sep 2025</text>
<text x="1089" y="913.9" textLength="51.8" lengthAdjust="spacingAndGlyphs">15 Sep 2025</text>
<text x="1153" y="913.9" textLength="51.8" lengthAdjust="spacingAndGlyphs">25 Sep 2025</text>
<text x="1217" y="913.9" textLength="44.7" lengthAdjust="spacingAndGlyphs">7 Oct 2025</text>
<text x="1281" y="913.9" textLength="49.8" lengthAdjust="spacingAndGlyphs">17 Oct 2025</text>
<text x="1345" y="913.9" textLength="49.8" lengthAdjust="spacingAndGlyphs">29 Oct 2025</text>
<text x="1409" y="913.9" textLength="51.8" lengthAdjust="spacingAndGlyphs">10 Nov 2025</text>
<text x="1473" y="913.9" textLength="51.8" lengthAdjust="spacingAndGlyphs">20 Nov 2025</text>
<text x="1537" y="913.9" textLength="46.7" lengthAdjust="spacingAndGlyphs">2 Dec 2025</text>
<text y="13"><tspan x="6.2" textLength="68.6" lengthAdjust="spacingAndGlyphs">OIL_Chart,Daily</tspan> <tspan x="81" textLength="100.3" lengthAdjust="spacingAndGlyphs">58.71 58.74 58.43 58.51</tspan></text>
<text x="192.5" y="897" textLength="70" lengthAdjust="spacingAndGlyphs">FiboManager 2.21</text>
</g>
<g font-size="9.6" fill="#EB2840" text-anchor="end">
<text x="1868" y="454" textLength="22.9" lengthAdjust="spacingAndGlyphs">100.0</text>
<text x="1868" y="599.7" textLength="17.8" lengthAdjust="spacingAndGlyphs">61.8</text>
<text x="1868" y="646" textLength="17.8" lengthAdjust="spacingAndGlyphs">50.0</text>
<text x="1868" y="690.7" textLength="17.8" lengthAdjust="spacingAndGlyphs">38.2</text>
<text x="1869.6" y="837" textLength="41.6" lengthAdjust="spacingAndGlyphs">D1 24.5%</text>
</g>
<rect x="1877" y="462" width="31" height="11" fill="#FF0000" shape-rendering="crispEdges"/>
<text x="1881" y="470.9" font-size="9.6" fill="#fff" textLength="23" lengthAdjust="spacingAndGlyphs">66.01</text>
<rect x="1877" y="499" width="31" height="11" fill="#FF0000" shape-rendering="crispEdges"/>
<text x="1881" y="507.9" font-size="9.6" fill="#fff" textLength="23" lengthAdjust="spacingAndGlyphs">65.01</text>
<rect x="1877" y="683" width="31" height="11" fill="#FF0000" shape-rendering="crispEdges"/>
<text x="1881" y="691.9" font-size="9.6" fill="#fff" textLength="23" lengthAdjust="spacingAndGlyphs">60.01</text>
<rect x="1877" y="740" width="31" height="11" fill="#4F5B66" shape-rendering="crispEdges"/>
<text x="1881" y="748.9" font-size="9.6" fill="#fff" textLength="23" lengthAdjust="spacingAndGlyphs">58.51</text>
<rect x="1740" y="22" width="130" height="57" fill="#F0F8FF"/>
<text font-size="31.1" font-weight="bold" fill="#231F20" y="59.6"><tspan x="1743.4" textLength="38" lengthAdjust="spacingAndGlyphs">FX</tspan><tspan x="1779.5" y="65" font-size="42" fill="#0A6CFF" textLength="28" lengthAdjust="spacingAndGlyphs">W</tspan><tspan x="1804.6" y="59.6" textLength="61.5" lengthAdjust="spacingAndGlyphs">ARE</tspan></text>
<rect x="1740" y="845" width="130" height="56" fill="#F0F8FF"/>
<defs><linearGradient id="xg" gradientUnits="userSpaceOnUse" x1="1655.3" y1="0" x2="1655.5" y2="0"><stop offset="0" stop-color="#EC3344"/><stop offset="1" stop-color="#0F2140"/></linearGradient></defs>
<text transform="scale(1.12 1)" font-size="49" fill="#0F2140" x="1555.9 1579.8 1592.1 1618.5 1642.8" y="888.6">orbe<tspan fill="url(#xg)">x</tspan></text>
<rect x="8.5" y="822.5" width="22.5" height="13.5" rx="2" fill="#D3D3D3" stroke="#B4B4B4"/>
<text x="19.8" y="833.5" font-size="11.5" fill="#000" text-anchor="middle" textLength="3.8" lengthAdjust="spacingAndGlyphs">-</text>
<rect x="37.5" y="821.5" width="27.0" height="15.5" rx="2" fill="#D3D3D3" stroke="#B4B4B4"/>
<text x="51.0" y="833.6" font-size="11.5" fill="#000" text-anchor="middle" textLength="10.2" lengthAdjust="spacingAndGlyphs">12</text>
<rect x="70.5" y="822.5" width="22.5" height="13.5" rx="2" fill="#D3D3D3" stroke="#B4B4B4"/>
<text x="81.8" y="833.5" font-size="11.5" fill="#000" text-anchor="middle" textLength="6.7" lengthAdjust="spacingAndGlyphs">+</text>
<rect x="6.5" y="841.5" width="27.0" height="16.0" rx="2" fill="#EC3344"/>
<text x="20.0" y="853.5" font-size="11.5" fill="#fff" text-anchor="middle" textLength="6.7" lengthAdjust="spacingAndGlyphs">S</text>
<rect x="37.5" y="841.5" width="27.0" height="16.0" rx="2" fill="#1C8CEC"/>
<text x="51.0" y="853.5" font-size="11.5" fill="#fff" text-anchor="middle" textLength="6.7" lengthAdjust="spacingAndGlyphs">B</text>
<rect x="68.5" y="841.5" width="27.0" height="16.0" rx="2" fill="#D2691E"/>
<text x="82.0" y="853.5" font-size="11.5" fill="#fff" text-anchor="middle" textLength="12.8" lengthAdjust="spacingAndGlyphs">D1</text>
<rect x="99" y="841.5" width="43.5" height="16.0" rx="2" fill="#7B68EE"/>
<text x="120.8" y="853.5" font-size="11.5" fill="#fff" text-anchor="middle" textLength="37.0" lengthAdjust="spacingAndGlyphs">ALERTY</text>
<rect x="6.5" y="861.5" width="27.0" height="16.0" rx="2" fill="#F4A460"/>
<text x="20.0" y="873.5" font-size="11.5" fill="#fff" text-anchor="middle" textLength="15.0" lengthAdjust="spacingAndGlyphs">W1</text>
<rect x="37.5" y="861.5" width="27.0" height="16.0" rx="2" fill="#696969"/>
<text x="51.0" y="873.5" font-size="11.5" fill="#fff" text-anchor="middle" textLength="15.6" lengthAdjust="spacingAndGlyphs">MN</text>
<rect x="68.5" y="861.5" width="27.0" height="16.0" rx="2" fill="#696969"/>
<text x="82.0" y="873.5" font-size="11.5" fill="#fff" text-anchor="middle" textLength="15.6" lengthAdjust="spacingAndGlyphs">ZW</text>
<rect x="99" y="861.5" width="43.5" height="16.0" rx="2" fill="#7B68EE"/>
<text x="120.8" y="873.5" font-size="11.5" fill="#fff" text-anchor="middle" textLength="27.2" lengthAdjust="spacingAndGlyphs">SKAN</text>
<rect x="6" y="881" width="58.5" height="17" rx="2" fill="#1C8CEC"/>
<text x="35.2" y="893.5" font-size="11.5" fill="#fff" text-anchor="middle" textLength="39.1" lengthAdjust="spacingAndGlyphs">POMOC</text>
<rect x="68.5" y="881" width="74.0" height="17" rx="2" fill="#1C8CEC"/>
<text x="105.5" y="893.5" font-size="11.5" fill="#fff" text-anchor="middle" textLength="63.3" lengthAdjust="spacingAndGlyphs">USTAWIENIA</text>
</svg>
</body></html>
